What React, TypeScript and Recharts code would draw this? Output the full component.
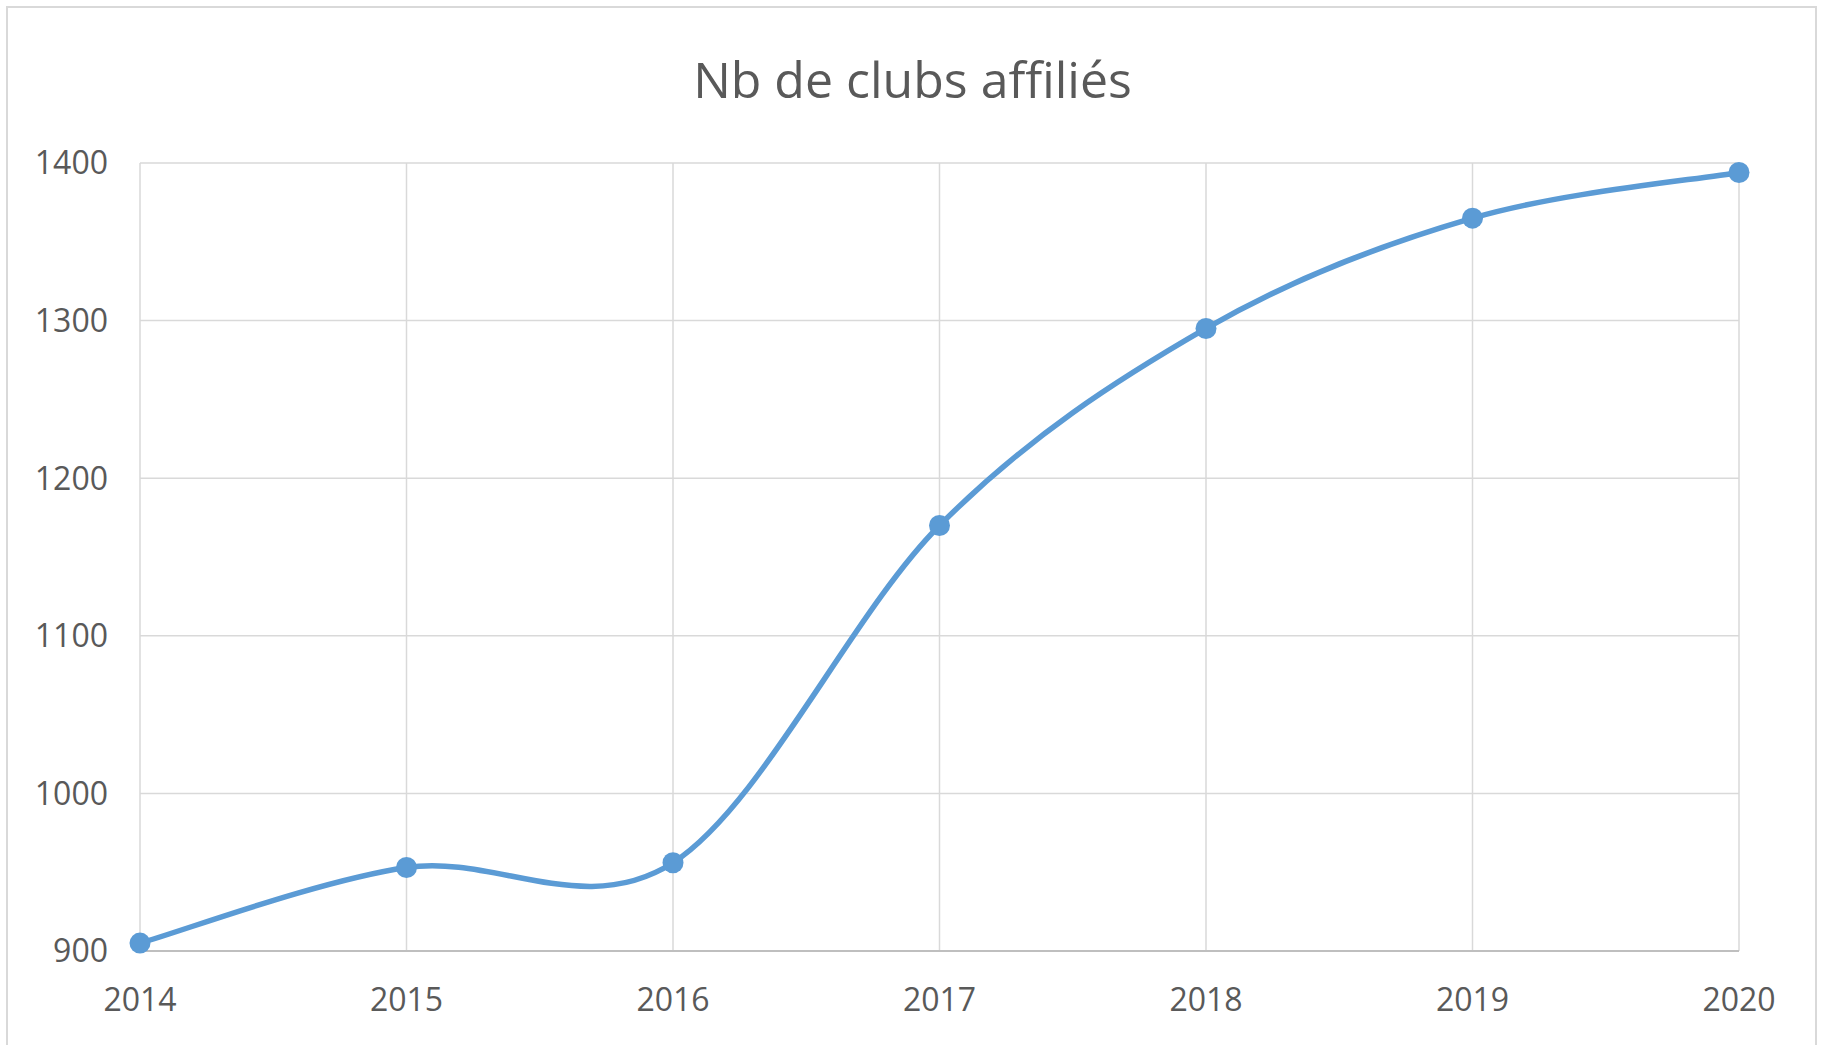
import React from 'react'
import { LineChart, Line, XAxis, YAxis, CartesianGrid } from 'recharts'

const years = ['2014', '2015', '2016', '2017', '2018', '2019', '2020']
const clubs = [905, 953, 956, 1170, 1295, 1365, 1394]
const yTicks = [900, 1000, 1100, 1200, 1300, 1400]

const data = years.map((year, i) => ({ year, clubs: clubs[i] }))

const TEXT = '#595959'
const GRID = '#d9d9d9'
const BLUE = '#5b9bd5'

// Excel-like smoothed line: cubic bezier through the points, catmull-rom tangents
function excelSmooth(context: any) {
  let pts: [number, number][] = []
  return {
    areaStart() {},
    areaEnd() {},
    lineStart() {
      pts = []
    },
    point(x: number, y: number) {
      pts.push([+x, +y])
    },
    lineEnd() {
      if (!pts.length) return
      context.moveTo(pts[0][0], pts[0][1])
      for (let i = 0; i < pts.length - 1; i++) {
        const p0 = pts[Math.max(0, i - 1)]
        const p1 = pts[i]
        const p2 = pts[i + 1]
        const p3 = pts[Math.min(pts.length - 1, i + 2)]
        context.bezierCurveTo(
          p1[0] + (p2[0] - p0[0]) / 6,
          p1[1] + (p2[1] - p0[1]) / 6,
          p2[0] - (p3[0] - p1[0]) / 6,
          p2[1] - (p3[1] - p1[1]) / 6,
          p2[0],
          p2[1]
        )
      }
    },
  }
}

export default function App() {
  return (
    <div
      style={{
        position: 'absolute',
        left: 0,
        top: 0,
        width: 1825,
        height: 1045,
        background: '#ffffff',
        overflow: 'hidden',
        fontFamily: '"Open Sans", sans-serif',
      }}
    >
      {/* chart frame */}
      <div
        style={{
          position: 'absolute',
          left: 6,
          top: 6,
          width: 1811,
          height: 1100,
          border: '2px solid #d9d9d9',
          boxSizing: 'border-box',
        }}
      />
      <div
        style={{
          position: 'absolute',
          left: 7,
          width: 1811,
          top: 54,
          fontSize: 50,
          lineHeight: '50px',
          textAlign: 'center',
          color: TEXT,
        }}
      >
        Nb de clubs affiliés
      </div>
      <div style={{ position: 'absolute', left: 0, top: 0 }}>
        <LineChart
          width={1825}
          height={1045}
          data={data}
          margin={{ top: 163, right: 86, bottom: 34, left: 40 }}
        >
          <CartesianGrid stroke={GRID} strokeWidth={1.5} />
          <XAxis
            dataKey="year"
            height={60}
            padding={{ left: 0, right: 0 }}
            axisLine={{ stroke: '#bfbfbf', strokeWidth: 2 }}
            tickLine={false}
            tickSize={6}
            tickMargin={31}
            tick={{ fill: TEXT, fontSize: 32, fontFamily: '"Open Sans", sans-serif' }}
            interval={0}
          />
          <YAxis
            width={100}
            domain={[900, 1400]}
            ticks={yTicks}
            axisLine={false}
            tickLine={false}
            tickSize={6}
            tickMargin={26}
            tick={{ fill: TEXT, fontSize: 32, fontFamily: '"Open Sans", sans-serif' }}
          />
          <Line
            dataKey="clubs"
            type={excelSmooth as any}
            stroke={BLUE}
            strokeWidth={5.5}
            dot={{ r: 10.5, fill: BLUE, stroke: BLUE, strokeWidth: 0 }}
            activeDot={false}
            isAnimationActive={false}
          />
        </LineChart>
      </div>
    </div>
  )
}
